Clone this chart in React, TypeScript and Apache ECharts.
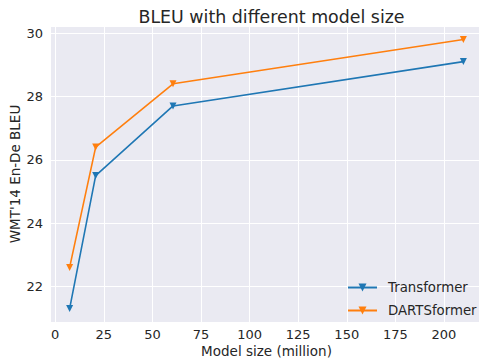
import React, { useEffect, useRef } from "react";
import * as echarts from "echarts";

const modelSizes = [7.4, 20.8, 60.6, 210];
const transformer = [21.3, 25.5, 27.7, 29.1];
const dartsformer = [22.6, 26.4, 28.4, 29.8];
const seriesNames = ["Transformer", "DARTSformer"];
const colors = ["#1f77b4", "#ff7f0e"];

const FONT = "DejaVu Sans";
const TXT = "#262626";

const onStep = (step: number) => (v: number) => {
  const r = v / step;
  return Math.abs(r - Math.round(r)) < 1e-6 ? String(Math.round(v)) : "";
};

export default function App() {
  const ref = useRef<HTMLDivElement>(null);
  useEffect(() => {
    if (!ref.current) return;
    const chart = echarts.init(ref.current, null, { renderer: "svg" });
    const mk = (name: string, vals: number[], color: string) => ({
      name,
      type: "line",
      data: modelSizes.map((x, i) => [x, vals[i]]),
      symbol: "triangle",
      symbolRotate: 180,
      symbolSize: 7,
      lineStyle: { color, width: 1.6 },
      itemStyle: { color },
      z: 3,
    });
    chart.setOption({
      animation: false,
      backgroundColor: "#ffffff",
      textStyle: { fontFamily: FONT },
      title: {
        text: "BLEU with different model size",
        left: 266.5,
        textAlign: "center",
        top: 3,
        textStyle: { fontFamily: FONT, fontSize: 17.4, fontWeight: "normal", color: TXT },
      },
      grid: {
        left: 50,
        right: -4,
        top: 26,
        bottom: 40,
        show: true,
        outerBoundsMode: "none",
        containLabel: false,
        backgroundColor: "#eaeaf2",
        borderWidth: 0,
      },
      legend: {
        orient: "vertical",
        left: 342,
        top: 276,
        itemWidth: 29,
        itemHeight: 10,
        itemGap: 10,
        data: seriesNames,
        textStyle: { fontFamily: FONT, fontSize: 13.3, color: TXT, padding: [0, 0, 0, 6] },
      },
      xAxis: {
        type: "value",
        min: -2.7,
        max: 220.1,
        minInterval: 25,
        maxInterval: 25,
        splitNumber: 9,
        name: "Model size (million)",
        nameLocation: "middle",
        nameGap: 22,
        nameMoveOverlap: false,
        nameTextStyle: { fontFamily: FONT, fontSize: 13.5, color: TXT },
        axisLine: { show: false },
        axisTick: { show: false },
        axisLabel: {
          formatter: onStep(25),
          margin: 6,
          fontFamily: FONT,
          fontSize: 13,
          color: TXT,
        },
        splitLine: { show: true, lineStyle: { color: "#ffffff", width: 1 } },
      },
      yAxis: {
        type: "value",
        min: 20.875,
        max: 30.225,
        minInterval: 2,
        maxInterval: 2,
        splitNumber: 5,
        name: "WMT'14 En-De BLEU",
        nameLocation: "middle",
        nameGap: 28,
        nameMoveOverlap: false,
        nameTextStyle: { fontFamily: FONT, fontSize: 13.5, color: TXT },
        axisLine: { show: false },
        axisTick: { show: false },
        axisLabel: {
          formatter: onStep(2),
          margin: 7,
          fontFamily: FONT,
          fontSize: 13,
          color: TXT,
        },
        splitLine: { show: true, lineStyle: { color: "#ffffff", width: 1 } },
      },
      series: [
        mk(seriesNames[0], transformer, colors[0]),
        mk(seriesNames[1], dartsformer, colors[1]),
      ],
    });
    return () => chart.dispose();
  }, []);
  return <div ref={ref} style={{ width: 479, height: 362, position: "absolute", left: 0, top: 0 }} />;
}
